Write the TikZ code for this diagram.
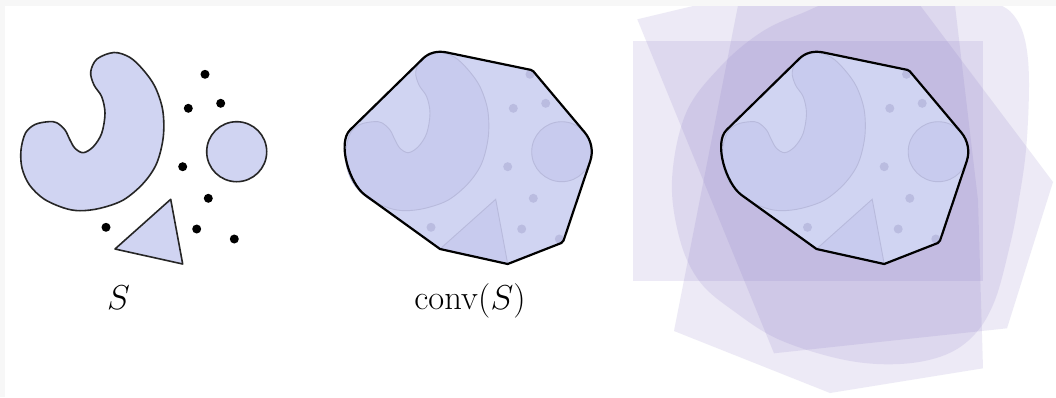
\documentclass[tikz,border=0pt]{standalone}
\definecolor{lav}{RGB}{208,212,242}
\definecolor{innerfill}{RGB}{200,203,238}
\definecolor{innerline}{RGB}{184,186,220}
\definecolor{innerdot}{RGB}{186,188,224}
\definecolor{haze}{RGB}{118,100,186}
\definecolor{band}{RGB}{247,247,247}
\newcommand\kidneyshape[1]{\path[#1] plot[smooth cycle, tension=0.55] coordinates {
 (114,52.5) (97,59) (90.7,72) (94,85) (101.7,96.7) (105,113.3) (101.7,133.3)
 (93.3,146.7) (83.3,152.7) (75,148.3) (70,140) (65,130) (56.7,122.7) (48.3,121.7)
 (35,124.5) (25.5,133) (21,150) (22,168) (29.5,185) (44,199) (64,208)
 (80,210.7) (100,208.3) (123.3,200) (143.3,183.3) (156.7,163.3) (163.3,136.7)
 (162.7,110) (155,86.7) (143.3,70) (130,57.5)};}
\newcommand\circshape[1]{\path[#1] (236.7,151.7) circle[radius=30];}
\newcommand\trishape[1]{\path[#1] (170.7,199.3) -- (115,249) -- (182.7,264) -- cycle;}
\newcommand\dotset[1]{\foreach \p in {(205,74.3),(188.3,108.3),(220.7,103.3),(182.7,166.7),(208.3,198.3),(196.7,229),(234.3,239),(106,227.3)}{\path[#1] \p circle[radius=4.5];}}
\newcommand\hullshape[1]{\path[#1] (25,130) -- (98,58.5) .. controls (103.7,52.9) and (112.2,50.4) .. (122,52.5)
 -- (205.9,69.9) arc[start angle=-78, end angle=-40.1, radius=4.5]
 -- (259.7,132.4) arc[start angle=-40.1, end angle=18.6, radius=30]
 -- (238.6,240.4) arc[start angle=18.6, end angle=64, radius=4.5]
 -- (182.7,264) -- (115,249) -- (40,195) .. controls (24.5,183.8) and (12,143) .. (25,130) -- cycle;}
\tikzset{
 solid shape/.style={fill=lav, draw=black!85, line width=0.8pt, line join=round},
 solid dot/.style={fill=black},
 ghost shape/.style={fill=innerfill, draw=innerline, line width=0.45pt},
 ghost dot/.style={fill=innerdot},
 hull fill/.style={fill=lav},
 hull line/.style={draw=black, line width=1.1pt, line join=round},
 haze shape/.style={fill=haze, fill opacity=0.13},
 label text/.style={font=\fontsize{17}{20}\selectfont, anchor=base, inner sep=0pt}
}
\begin{document}
\begin{tikzpicture}[x=0.5pt,y=-0.5pt]
\useasboundingbox (0,0) rectangle (1056,397);
\fill[band] (0,0) rectangle (1056,397);
\fill[white] (5,6) rectangle (1056,397);
\begin{scope}
\clip (5,6) rectangle (1056,397);
% left panel: the set S
\kidneyshape{solid shape}
\circshape{solid shape}
\trishape{solid shape}
\dotset{solid dot}
\node[label text] (lblS) at (118.5,309.5) {$S$};
% middle panel: conv(S)
\begin{scope}[shift={(325,0)}]
\hullshape{hull fill}
\kidneyshape{ghost shape}
\circshape{ghost shape}
\trishape{ghost shape}
\dotset{ghost dot}
\hullshape{hull line}
\end{scope}
\node[label text] (lblconv) at (470,309.5) {$\mathrm{conv}(S)$};
% right panel: convex supersets
\fill[haze shape] (632.7,40.7) rectangle (982.7,281);
\fill[haze shape] (743,-20) -- (952,-20) -- (978,200) -- (983,368.3) -- (830,393) -- (674,331) -- cycle;
\fill[haze shape] (637.3,19.3) -- (886,-40) -- (1053,182) -- (1007,328.3) -- (774,353.3) -- cycle;
\fill[haze shape] plot[smooth cycle, tension=0.6] coordinates {
 (672,180) (686,113) (720,67) (760,33) (800,14) (850,-2) (960,-6) (1000,5) (1017,20)
 (1026,45) (1029,85) (1026,150) (1018,205) (1010,245) (995,300) (975,334) (945,355)
 (900,364) (845,360) (780,340) (735,312) (700,282) (680,240)};
\begin{scope}[shift={(701.5,0)}]
\hullshape{hull fill}
\kidneyshape{ghost shape}
\circshape{ghost shape}
\trishape{ghost shape}
\dotset{ghost dot}
\hullshape{hull line}
\end{scope}
\end{scope}
\end{tikzpicture}
\end{document}
